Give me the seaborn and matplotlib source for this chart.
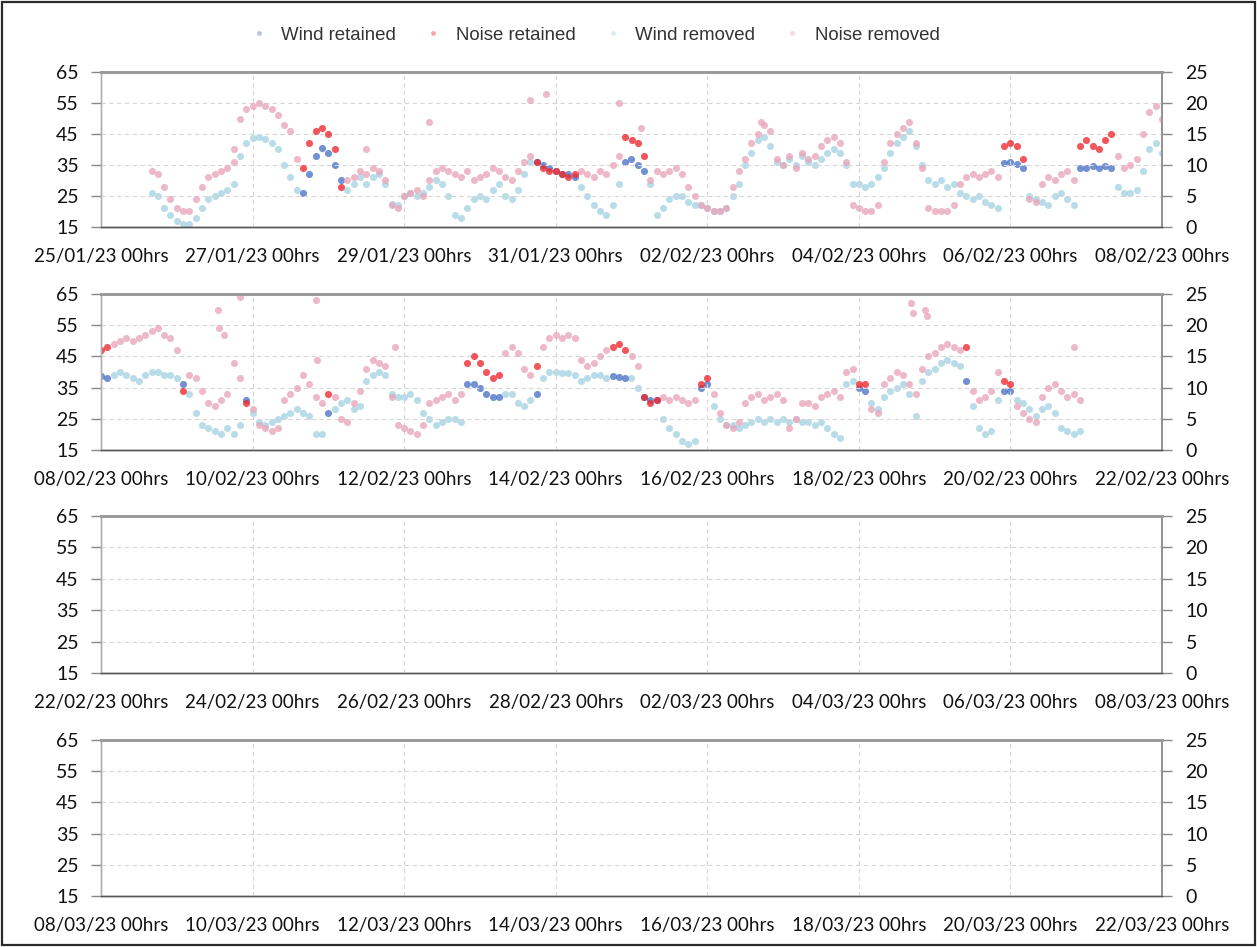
import numpy as np
import pandas as pd
import matplotlib
matplotlib.use("Agg")
import matplotlib.pyplot as plt
import matplotlib.dates as mdates
import seaborn as sns
from matplotlib.lines import Line2D
from matplotlib.patches import Rectangle

# ---------------- data (2-hourly readings estimated from the chart) ----------------
PANEL_STARTS = ["2023-01-25", "2023-02-08", "2023-02-22", "2023-03-08"]

P1_START = "2023-01-25 16:00"
P1_NOISE = [33, 32, 28, 24,
            21, 20, 20, 24, 28, 31, 32, 33, 34, 36, 50, 53,
            54, 55, 54, 53, 51, 48, 46, 37, 34, 42, 46, 47,
            45, 40, 28, 30, 31, 33, 32, 34, 33, 30, 22, 21,
            25, 26, 27, 25, 30, 33, 34, 33, 32, 31, 33, 30,
            31, 32, 34, 33, 31, 30, 33, 36, 38, 36, 34, 33,
            33, 32, 31, 32, 33, 32, 31, 33, 32, 35, 38, 44,
            43, 42, 38, 30, 33, 32, 33, 34, 32, 28, 25, 22,
            21, 20, 20, 21, 28, 33, 37, 42, 45, 48, 46, 37,
            35, 38, 34, 39, 37, 38, 41, 43, 44, 42, 36, 22,
            21, 20, 20, 22, 36, 42, 45, 47, 49, 42, 34, 21,
            20, 20, 20, 22, 29, 31, 32, 31, 32, 33, 31, 41,
            42, 41, 37, 24, 23, 29, 31, 30, 32, 33, 30, 41,
            43, 41, 40, 43, 45, 38, 34, 35, 37, 45, 52, 54,
            50]
P1_WIND = [5.5, 5, 3, 2,
           1, 0.5, 0.5, 1.5, 3, 4.5, 5, 5.5, 6, 7, 11.5, 13.5,
           14.3, 14.5, 14.2, 13.5, 12.5, 10, 8, 6, 5.5, 8.5, 11.5, 12.8,
           12, 10, 7.5, 6, 7, 8, 7, 8, 8.5, 7, 3.7, 3.5,
           5, 5.5, 5, 5.5, 6.5, 7.5, 7, 5, 2, 1.5, 3, 4.5,
           5, 4.5, 6, 7, 5, 4.5, 6, 8.5, 10.5, 10.5, 10, 9.5,
           9, 8.5, 8.5, 8, 6.5, 5, 3.5, 2.5, 2, 3.5, 7, 10.5,
           11, 10, 9, 7, 2, 3, 4.5, 5, 5, 4, 3.5, 3.5,
           3, 2.5, 2.5, 3, 5, 7, 10, 12, 14, 14.5, 13, 10.5,
           10, 11, 10, 11.5, 10.5, 10, 11, 12, 12.5, 12, 10, 7,
           7, 6.5, 7, 8, 9.5, 12, 13.5, 14.5, 15.5, 13, 10, 7.5,
           7, 7.5, 6.5, 7, 5.5, 5, 4.5, 5, 4, 3.5, 3, 10.3,
           10.5, 10.2, 9.5, 5, 4.5, 4, 3.5, 5, 5.5, 4.5, 3.5, 9.5,
           9.5, 9.8, 9.5, 9.8, 9.5, 6.5, 5.5, 5.5, 6, 9, 12.5, 13.5,
           12]
P1_RETAINED = [("2023-01-27 16:00", "2023-01-28 04:00"),
               ("2023-01-30 18:00", "2023-01-31 06:00"),
               ("2023-01-31 22:00", "2023-02-01 04:00"),
               ("2023-02-05 22:00", "2023-02-06 04:00"),
               ("2023-02-06 22:00", "2023-02-07 08:00")]
P1_OUTLIER_TIMES = ["2023-01-26 18:00", "2023-01-28 12:00", "2023-01-29 08:00",
                    "2023-01-30 16:00", "2023-01-30 21:00", "2023-01-31 20:00",
                    "2023-02-01 03:00", "2023-02-02 17:00"]
P1_OUTLIER_NOISE = [40, 40, 49, 56, 58, 55, 47, 49]

P2_START = "2023-02-08 00:00"
P2_NOISE = [47, 48, 49, 50, 51, 50, 51, 52, 53, 54, 52, 51,
            47, 34, 39, 38, 34, 30, 29, 31, 33, 43, 38, 30,
            28, 23, 22, 21, 22, 31, 33, 35, 39, 36, 32, 30,
            33, 32, 25, 24, 30, 34, 41, 44, 43, 42, 32, 23,
            22, 21, 20, 23, 30, 31, 32, 33, 31, 33, 43, 45,
            43, 40, 38, 39, 46, 48, 46, 41, 39, 42, 48, 51,
            52, 51, 52, 51, 44, 42, 43, 45, 47, 48, 49, 47,
            45, 42, 32, 30, 31, 32, 31, 32, 31, 30, 31, 36,
            38, 33, 27, 23, 22, 24, 30, 32, 33, 31, 32, 33,
            31, 22, 25, 30, 30, 29, 32, 33, 34, 32, 40, 41,
            36, 36, 28, 27, 36, 38, 40, 39, 36, 33, 41, 45,
            46, 48, 49, 48, 47, 48, 34, 31, 32, 34, 40, 37,
            36, 29, 27, 25, 24, 32, 35, 36, 34, 32, 33, 31]
P2_WIND = [11.8, 11.5, 12, 12.5, 12, 11.5, 11, 12, 12.5, 12.5, 12, 12,
           11.5, 10.5, 9, 6, 4, 3.5, 3, 2.5, 3.5, 2.5, 4, 8,
           6, 4.5, 4, 4.5, 5, 5.5, 6, 6.5, 6, 5.5, 2.5, 2.5,
           6, 6.5, 7.5, 8, 6.5, 7, 11, 12, 12.5, 12, 9, 8.5,
           8.5, 9, 8, 6, 5, 4, 4.5, 5, 5, 4.5, 10.5, 10.5,
           10, 9, 8.5, 8.5, 9, 9, 7.5, 7, 8, 9, 11.5, 12.5,
           12.5, 12.3, 12.3, 12, 11, 11.5, 12, 12, 11.5, 11.8, 11.7, 11.5,
           11.5, 10, 8.5, 8, 8, 5, 3.5, 2.5, 1.5, 1, 1.5, 10,
           10.5, 7, 5, 4, 4, 3.5, 4, 4.5, 5, 4.5, 5, 4.5,
           5, 4.5, 5, 4.5, 4.5, 4, 4.5, 3.5, 2.5, 2, 10.5, 11,
           10, 9.5, 7.5, 6.5, 8.5, 9.5, 10, 10.5, 9, 5.5, 11, 12.5,
           13, 14, 14.5, 14, 13.5, 11, 7, 3.5, 2.5, 3, 8, 9.5,
           9.5, 8, 7.5, 6.5, 5.5, 6.5, 7, 6, 3.5, 3, 2.5, 3]
P2_RETAINED = [("2023-02-08 00:00", "2023-02-08 02:00"),
               ("2023-02-09 02:00", "2023-02-09 02:00"),
               ("2023-02-09 22:00", "2023-02-09 22:00"),
               ("2023-02-11 00:00", "2023-02-11 00:00"),
               ("2023-02-12 20:00", "2023-02-13 06:00"),
               ("2023-02-13 18:00", "2023-02-13 18:00"),
               ("2023-02-14 18:00", "2023-02-14 22:00"),
               ("2023-02-15 04:00", "2023-02-15 08:00"),
               ("2023-02-15 22:00", "2023-02-16 00:00"),
               ("2023-02-18 00:00", "2023-02-18 02:00"),
               ("2023-02-19 10:00", "2023-02-19 10:00"),
               ("2023-02-19 22:00", "2023-02-20 00:00")]
P2_OUTLIER_TIMES = ["2023-02-09 13:00", "2023-02-09 13:30", "2023-02-09 15:00",
                    "2023-02-09 20:00", "2023-02-10 20:00", "2023-02-10 20:30",
                    "2023-02-11 21:00", "2023-02-18 16:30", "2023-02-18 17:00",
                    "2023-02-18 21:00", "2023-02-18 21:30", "2023-02-20 20:00"]
P2_OUTLIER_NOISE = [60, 54, 52, 64, 63, 44, 48, 62, 59, 60, 58, 48]

SERIES = ["Wind retained", "Noise retained", "Wind removed", "Noise removed"]
COLORS = {"Wind retained": "#4a72c6", "Noise retained": "#f0262b",
          "Wind removed": "#a6d3e3", "Noise removed": "#e8a6b9"}


def build(start, noise, wind, retained, out_t, out_n):
    t = pd.date_range(start, periods=len(noise), freq="2h")
    keep = np.zeros(len(t), dtype=bool)
    for a, b in retained:
        keep |= (t >= pd.Timestamp(a)) & (t <= pd.Timestamp(b))
    n = pd.DataFrame({"time": t, "value": noise,
                      "kind": np.where(keep, "Noise retained", "Noise removed")})
    o = pd.DataFrame({"time": pd.to_datetime(out_t), "value": out_n,
                      "kind": "Noise removed"})
    n = pd.concat([n, o], ignore_index=True)
    w = pd.DataFrame({"time": t, "value": wind,
                      "kind": np.where(keep, "Wind retained", "Wind removed")})
    return n, w


panel_data = [build(P1_START, P1_NOISE, P1_WIND, P1_RETAINED, P1_OUTLIER_TIMES, P1_OUTLIER_NOISE),
              build(P2_START, P2_NOISE, P2_WIND, P2_RETAINED, P2_OUTLIER_TIMES, P2_OUTLIER_NOISE),
              None, None]

# ---------------- figure ----------------
sns.set_theme(style="white")
plt.rcParams["font.family"] = ["Lato", "DejaVu Sans"]

fig = plt.figure(figsize=(12.57, 9.47), dpi=100)
W, H = 1257, 947
panel_px = [(72, 227), (294, 450), (516, 673), (740, 896)]
left_px, right_px = 101, 1162

for i, (top, bot) in enumerate(panel_px):
    rect = [left_px / W, 1 - bot / H, (right_px - left_px) / W, (bot - top) / H]
    ax = fig.add_axes(rect)
    ax2 = ax.twinx()
    ax.set_zorder(ax2.get_zorder() + 1)
    ax.patch.set_visible(False)

    start = pd.Timestamp(PANEL_STARTS[i])
    end = start + pd.Timedelta(days=14)
    ticks = pd.date_range(start, end, freq="2D")

    if panel_data[i] is not None:
        ndf, wdf = panel_data[i]
        for kind in ["Wind removed", "Wind retained"]:
            sub = wdf[wdf["kind"] == kind]
            sns.scatterplot(data=sub, x="time", y="value", ax=ax2, color=COLORS[kind],
                            s=26, linewidth=0, alpha=0.78, legend=False)
        for kind in ["Noise removed", "Noise retained"]:
            sub = ndf[ndf["kind"] == kind]
            sns.scatterplot(data=sub, x="time", y="value", ax=ax, color=COLORS[kind],
                            s=26, linewidth=0, alpha=0.78, legend=False)

    ax.set_xlim(start, end)
    ax.set_ylim(15, 65)
    ax2.set_ylim(0, 25)
    ax.set_yticks([15, 25, 35, 45, 55, 65])
    ax2.set_yticks([0, 5, 10, 15, 20, 25])
    ax.set_xticks(ticks)
    ax.xaxis.set_major_formatter(mdates.DateFormatter("%d/%m/%y %Hhrs"))
    for a in (ax, ax2):
        a.set_xlabel("")
        a.set_ylabel("")

    ax.grid(True, axis="both", linestyle=(0, (4, 3)), color="#d6d6d6", linewidth=0.8)
    ax2.grid(False)

    ax.tick_params(axis="x", direction="out", length=5, width=1, color="#555555",
                   labelsize=13.5, pad=10, labelcolor="#111111")
    ax.tick_params(axis="y", direction="out", length=7, width=1, color="#888888",
                   labelsize=14, pad=9, labelcolor="#111111")
    ax2.tick_params(axis="y", direction="out", length=7, width=1, color="#888888",
                    labelsize=14, pad=10, labelcolor="#111111")

    for a in (ax, ax2):
        a.spines["top"].set_color("#9a9a9a")
        a.spines["top"].set_linewidth(2.0)
        a.spines["bottom"].set_color("#555555")
        a.spines["bottom"].set_linewidth(1.0)
        a.spines["left"].set_color("#b0b0b0")
        a.spines["left"].set_linewidth(1.0)
        a.spines["right"].set_color("#909090")
        a.spines["right"].set_linewidth(1.2)

handles = [Line2D([], [], marker="o", linestyle="", markersize=3.5,
                  markerfacecolor=COLORS[k], markeredgewidth=0, alpha=0.4)
           for k in SERIES]
fig.legend(handles, SERIES, loc="center", bbox_to_anchor=(0.473, 0.963), ncol=4,
           frameon=False, prop={"family": ["Liberation Sans", "DejaVu Sans"], "size": 13.4},
           handlelength=1.0, handletextpad=0.7, columnspacing=1.5, labelcolor="#333333")

fig.add_artist(Rectangle((0.0015, 0.002), 0.997, 0.996, transform=fig.transFigure,
                         fill=False, edgecolor="#2a2a2a", linewidth=1.6))

fig.savefig("out.png", dpi=100)
